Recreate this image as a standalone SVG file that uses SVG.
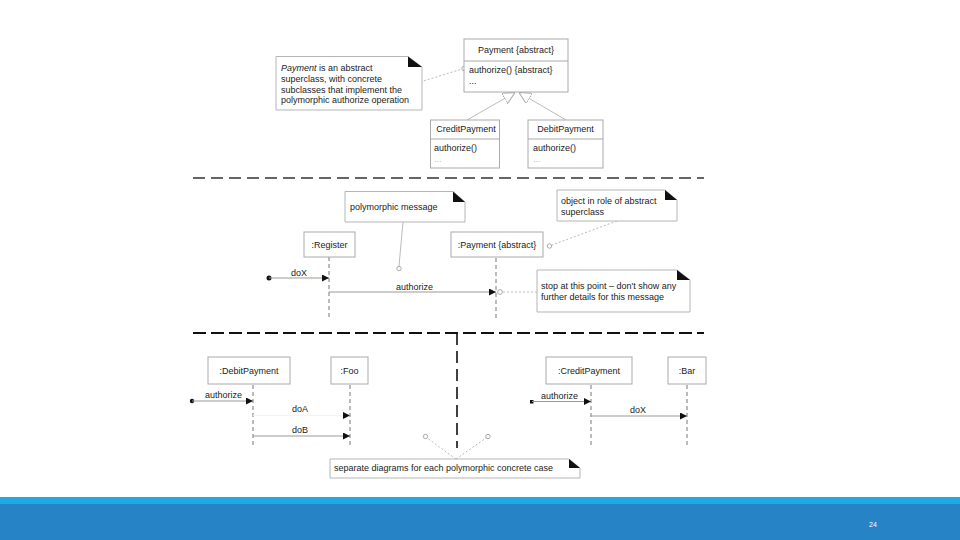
<svg xmlns="http://www.w3.org/2000/svg" width="960" height="540" viewBox="0 0 960 540">
<defs>
<style>
text{font-family:"Liberation Sans",Arial,sans-serif;font-size:9px;fill:#222}
.box{fill:#fff;stroke:#aaa;stroke-width:1}
.note{fill:#fff;stroke:#b5b5b5;stroke-width:1}
.flap{fill:#111}
.msg{stroke:#999;stroke-width:1;fill:none}
.faint{stroke:#f4f4f4;stroke-width:1;fill:none}
.life{stroke:#777;stroke-width:1;stroke-dasharray:4 3;fill:none}
.anchor{stroke:#bbb;stroke-width:1;stroke-dasharray:2 2;fill:none}
.solidanchor{stroke:#bbb;stroke-width:1;fill:none}
.circ{fill:#fff;stroke:#aaa;stroke-width:1}
.gen{stroke:#bbb;stroke-width:1;fill:none}
.sep1{stroke:#333;stroke-width:1.3;stroke-dasharray:12 6}
.sep2{stroke:#111;stroke-width:2;stroke-dasharray:13 5}
.light{fill:#bbb}
</style>
<marker id="arr" viewBox="0 0 8 8" refX="8" refY="4" markerWidth="7" markerHeight="7" markerUnits="userSpaceOnUse" orient="auto">
<path d="M0,0 L8,4 L0,8 Z" fill="#111"/>
</marker>
<marker id="tri" viewBox="0 0 12 12" refX="12" refY="6" markerWidth="12" markerHeight="12" markerUnits="userSpaceOnUse" orient="auto">
<path d="M0,0 L12,6 L0,12 Z" fill="#fff" stroke="#aaa" stroke-width="1"/>
</marker>
</defs>
<rect x="0" y="0" width="960" height="540" fill="#fff"/>

<g id="separators">
<line class="sep1" x1="193" y1="178" x2="704" y2="178"/>
<line class="sep2" x1="193" y1="333" x2="704" y2="333"/>
<line class="sep2" x1="457" y1="333" x2="457" y2="448" style="stroke-width:1.6;stroke-dasharray:12 6"/>
</g>

<g id="connectors">
<line class="anchor" x1="420" y1="82" x2="462" y2="69"/>
<circle class="circ" cx="464" cy="68.5" r="2.2"/>
<line class="gen" x1="467" y1="120" x2="515" y2="92.5" marker-end="url(#tri)"/>
<line class="gen" x1="566" y1="120" x2="519" y2="92.5" marker-end="url(#tri)"/>
<line class="solidanchor" x1="403" y1="222" x2="399" y2="266"/>
<circle class="circ" cx="399" cy="268.5" r="2.2"/>
<line class="anchor" x1="617" y1="221" x2="552" y2="245"/>
<circle class="circ" cx="549.5" cy="246" r="2.2"/>
<line class="life" x1="329" y1="257" x2="329" y2="318"/>
<line class="life" x1="496" y1="258" x2="496" y2="318"/>
<circle cx="269" cy="278" r="2.5" fill="#111"/>
<line class="msg" x1="269" y1="278" x2="329" y2="278" marker-end="url(#arr)"/>
<line class="msg" x1="329" y1="292" x2="496" y2="292" marker-end="url(#arr)"/>
<circle class="circ" cx="500" cy="292" r="2.4"/>
<line class="anchor" x1="503" y1="292" x2="537" y2="292"/>
<line class="life" x1="253" y1="385" x2="253" y2="447"/>
<line class="life" x1="350" y1="385" x2="350" y2="447"/>
<line class="life" x1="591" y1="385" x2="591" y2="447"/>
<line class="life" x1="687" y1="385" x2="687" y2="447"/>
<circle cx="192" cy="401" r="2.2" fill="#111"/>
<line class="msg" x1="192" y1="401" x2="253" y2="401" marker-end="url(#arr)"/>
<line class="faint" x1="253" y1="415.5" x2="350" y2="415.5" marker-end="url(#arr)"/>
<line class="msg" x1="253" y1="436" x2="350" y2="436" marker-end="url(#arr)"/>
<rect x="530" y="400" width="3.5" height="3.5" fill="#111"/>
<line class="msg" x1="532" y1="401.5" x2="591" y2="401.5" marker-end="url(#arr)"/>
<line class="msg" x1="591" y1="416" x2="687" y2="416" marker-end="url(#arr)"/>
<line class="anchor" x1="456" y1="459" x2="427" y2="438"/>
<line class="anchor" x1="456" y1="459" x2="486" y2="438"/>
<circle class="circ" cx="425.5" cy="436.5" r="2.2"/>
<circle class="circ" cx="488" cy="436.5" r="2.2"/>
</g>

<g id="note-payment-abstract">
<path class="note" d="M276,56.5 H408 L422,67 V110 H276 Z"/>
<path class="flap" d="M408,56.5 L408,67 L422,67 Z"/>
<text x="281" y="71"><tspan font-style="italic">Payment</tspan> is an abstract</text>
<text x="281" y="82">superclass, with concrete</text>
<text x="281" y="92.5">subclasses that implement the</text>
<text x="281" y="103">polymorphic authorize operation</text>
</g>
<g id="class-payment">
<rect class="box" x="464" y="39" width="104" height="53"/>
<line class="box" x1="464" y1="61" x2="568" y2="61"/>
<text x="516" y="53" text-anchor="middle">Payment {abstract}</text>
<text x="469" y="73">authorize() {abstract}</text>
<text x="469" y="84">...</text>
</g>
<g id="class-creditpayment">
<rect class="box" x="430.5" y="120" width="69" height="48"/>
<line class="box" x1="430.5" y1="139" x2="499.5" y2="139"/>
<text x="466" y="132" text-anchor="middle">CreditPayment</text>
<text x="434" y="151">authorize()</text>
<text x="434" y="162" class="light">...</text>
</g>
<g id="class-debitpayment">
<rect class="box" x="528" y="120" width="75" height="48"/>
<line class="box" x1="528" y1="139" x2="603" y2="139"/>
<text x="565.5" y="132" text-anchor="middle">DebitPayment</text>
<text x="533" y="151">authorize()</text>
<text x="533" y="162" class="light">...</text>
</g>

<g id="note-polymorphic">
<path class="note" d="M345,191.5 H453 L465,202 V222 H345 Z"/>
<path class="flap" d="M453,191.5 L453,202 L465,202 Z"/>
<text x="350" y="210">polymorphic message</text>
</g>
<g id="note-object-role">
<path class="note" d="M557,190 H665 L677,200 V221 H557 Z"/>
<path class="flap" d="M665,190 L665,200 L677,200 Z"/>
<text x="561" y="204">object in role of abstract</text>
<text x="561" y="215">superclass</text>
</g>
<g id="obj-register">
<rect class="box" x="304" y="232" width="51" height="25"/>
<text x="329.5" y="248" text-anchor="middle">:Register</text>
</g>
<g id="obj-payment">
<rect class="box" x="451" y="232" width="92" height="25"/>
<text x="497" y="248" text-anchor="middle">:Payment {abstract}</text>
</g>
<g id="note-stop">
<path class="note" d="M537,270 H677 L690,280 V312 H537 Z"/>
<path class="flap" d="M677,270 L677,280 L690,280 Z"/>
<text x="541" y="289">stop at this point – don't show any</text>
<text x="541" y="300">further details for this message</text>
</g>

<g id="obj-debitpayment">
<rect class="box" x="208" y="357" width="82" height="27"/>
<text x="249" y="374" text-anchor="middle">:DebitPayment</text>
</g>
<g id="obj-foo">
<rect class="box" x="331" y="357" width="37" height="27"/>
<text x="349.5" y="374" text-anchor="middle">:Foo</text>
</g>
<g id="obj-creditpayment">
<rect class="box" x="546" y="357" width="86" height="27"/>
<text x="589" y="374" text-anchor="middle">:CreditPayment</text>
</g>
<g id="obj-bar">
<rect class="box" x="668" y="357" width="38" height="27"/>
<text x="687" y="374" text-anchor="middle">:Bar</text>
</g>
<g id="labels">
<text x="291" y="276">doX</text>
<text x="396" y="290">authorize</text>
<text x="205" y="398">authorize</text>
<text x="292" y="412">doA</text>
<text x="292" y="433">doB</text>
<text x="541" y="399">authorize</text>
<text x="630" y="413">doX</text>
</g>
<g id="note-separate">
<path class="note" d="M330,459 H569 L580,468 V478 H330 Z"/>
<path class="flap" d="M569,459 L569,468 L580,468 Z"/>
<text x="334" y="471">separate diagrams for each polymorphic concrete case</text>
</g>

<g id="footer">
<rect x="0" y="497" width="960" height="7" fill="#1eaae2"/>
<rect x="0" y="504" width="960" height="36" fill="#2683c6"/>
<text x="869" y="527" style="fill:#fff;font-size:7px">24</text>
</g>
</svg>
